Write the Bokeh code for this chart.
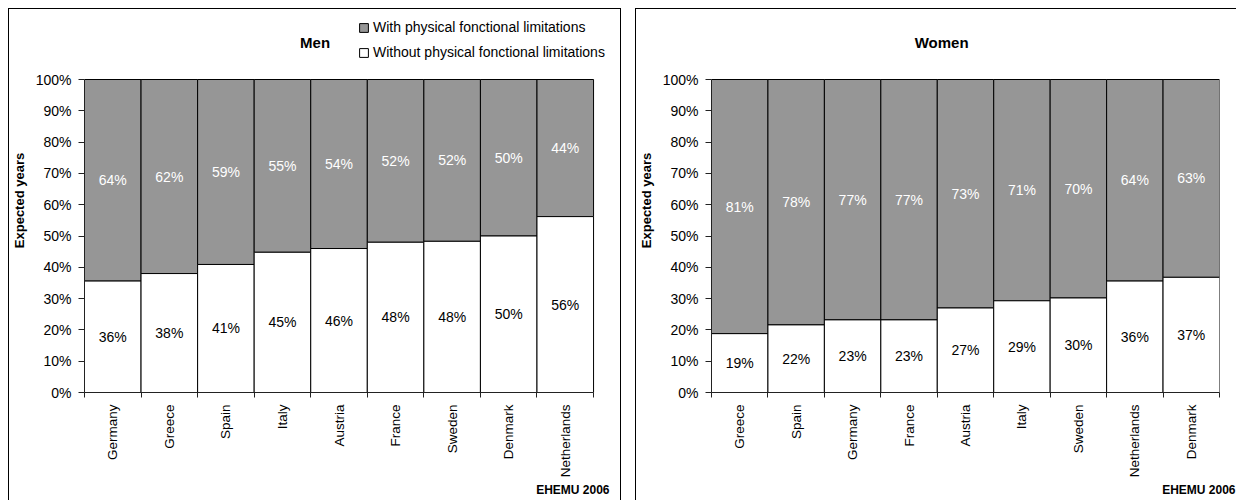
import math
from bokeh.plotting import figure
from bokeh.models import (Range1d, FixedTicker, Label, Legend, LegendItem, Title,
                          ColumnDataSource, PrintfTickFormatter)
from bokeh.layouts import row
from bokeh.core.properties import value
from bokeh.embed import file_html
from bokeh.resources import INLINE

# ---------------- data ----------------
men_countries = ["Germany", "Greece", "Spain", "Italy", "Austria",
                 "France", "Sweden", "Denmark", "Netherlands"]
men_without = [35.6, 38.0, 40.9, 44.8, 46.0, 48.0, 48.3, 50.0, 56.2]

women_countries = ["Greece", "Spain", "Germany", "France", "Austria",
                   "Italy", "Sweden", "Netherlands", "Denmark"]
women_without = [18.8, 21.6, 23.2, 23.2, 27.0, 29.3, 30.2, 35.6, 36.8]

y_ticks = [0, 10, 20, 30, 40, 50, 60, 70, 80, 90, 100]
series_names = ["With physical fonctional limitations",
                "Without physical fonctional limitations"]
panel_titles = ["Men", "Women"]
y_label = "Expected years"
source_note = "EHEMU 2006"

# ---------------- style / layout ----------------
FONT = "Liberation Sans"
GRAY = "#969696"
AXIS = "#222222"
BAR_W_PX = 510          # pixel width of the 9 bars
BAR_H_PX = 313          # pixel height of 0..100 %
HEAD_PX = 71            # header zone above 100 %
CANVAS_H = 492


def make_panel(title, countries, without, width, b_left, extra_right_px, b_right,
               legend, shadow):
    n = len(countries)
    unit_x = BAR_W_PX / n
    unit_y = BAR_H_PX / 100
    x_end = n + extra_right_px / unit_x
    y_end = 100 + HEAD_PX / unit_y
    p = figure(width=width, height=CANVAS_H,
               x_range=Range1d(0, x_end), y_range=Range1d(0, y_end),
               output_backend="svg", toolbar_location=None,
               min_border_left=b_left, min_border_right=b_right,
               min_border_top=0, min_border_bottom=CANVAS_H - HEAD_PX - BAR_H_PX,
               styles={"box-shadow": shadow})
    p.border_fill_color = None
    p.background_fill_color = None
    p.outline_line_color = None
    p.xgrid.visible = False
    p.ygrid.visible = False

    xs = [i + 0.5 for i in range(n)]
    with_lim = [100 - w for w in without]
    src = ColumnDataSource(dict(
        x=xs, without=without, total=[100] * n,
        y_low=[w / 2 for w in without],
        y_high=[w + (100 - w) / 2 for w in without],
        lab_low=[f"{round(w)}%" for w in without],
        lab_high=[f"{round(v)}%" for v in with_lim],
    ))
    r_with = p.vbar(x="x", width=1, bottom="without", top="total", source=src,
                    fill_color=GRAY, line_color="black", line_width=1)
    r_without = p.vbar(x="x", width=1, bottom=0, top="without", source=src,
                       fill_color="white", line_color="black", line_width=1)

    p.text(x="x", y="y_low", text="lab_low", source=src, text_align="center",
           text_baseline="middle", text_font=value(FONT), text_font_size="14px",
           text_color="black")
    p.text(x="x", y="y_high", text="lab_high", source=src, text_align="center",
           text_baseline="middle", text_font=value(FONT), text_font_size="14px",
           text_color="white")

    # x axis: boundary ticks via minor ticks, names at centres
    xa = p.xaxis[0]
    xa.bounds = (0, n)
    xa.ticker = FixedTicker(ticks=xs, minor_ticks=list(range(n + 1)))
    xa.major_label_overrides = {x: c for x, c in zip(xs, countries)}
    xa.major_tick_line_color = None
    xa.major_tick_out = 5
    xa.major_tick_in = 0
    xa.minor_tick_line_color = AXIS
    xa.minor_tick_out = 5
    xa.minor_tick_in = 0
    xa.axis_line_color = AXIS
    xa.major_label_orientation = math.pi / 2
    xa.major_label_standoff = 7
    xa.major_label_text_font = FONT
    xa.major_label_text_font_size = "13.5px"
    xa.major_label_text_color = "black"

    ya = p.yaxis[0]
    ya.bounds = (0, 100)
    ya.ticker = FixedTicker(ticks=y_ticks, minor_ticks=[])
    ya.formatter = PrintfTickFormatter(format="%d%%")
    ya.major_tick_out = 6
    ya.major_tick_in = 0
    ya.major_tick_line_color = AXIS
    ya.axis_line_color = AXIS
    ya.major_label_standoff = 7
    ya.major_label_text_font = FONT
    ya.major_label_text_font_size = "14px"
    ya.major_label_text_color = "black"
    ya.axis_label = y_label
    ya.axis_label_text_font = FONT
    ya.axis_label_text_font_style = "bold"
    ya.axis_label_text_font_size = "13px"
    ya.axis_label_text_color = "black"
    ya.axis_label_standoff = 6

    # panel title inside the (extended) frame header zone
    p.add_layout(Label(x=231 / unit_x, y=350 / unit_y, text=title, text_align="center",
                       text_baseline="middle", text_font=FONT, text_font_style="bold",
                       text_font_size="15px", text_color="black"))

    # source note below the axis, right edge 16px right of the bars
    p.add_layout(Title(text=source_note, align="right", offset=extra_right_px - 16,
                       text_font=FONT, text_font_style="bold", text_font_size="12px",
                       text_color="black", standoff=0), "below")

    if legend:
        lg = Legend(items=[LegendItem(label=series_names[0], renderers=[r_with]),
                           LegendItem(label=series_names[1], renderers=[r_without])],
                    location=(274, 332), orientation="vertical",
                    glyph_width=11, glyph_height=11, label_standoff=4,
                    padding=0, margin=0, spacing=9, label_height=11,
                    border_line_color=None, background_fill_alpha=0,
                    label_text_font=FONT, label_text_font_size="14px",
                    label_text_color="black")
        p.add_layout(lg, "center")
    return p


f1 = make_panel(panel_titles[0], men_countries, men_without, 613, 75, 28, 0, True,
                "inset 1px 0 0 0 #000, inset -1px 0 0 0 #000, inset 0 1px 0 0 #000")
f2 = make_panel(panel_titles[1], women_countries, women_without, 601, 74, 0, 17, False,
                "inset 1px 0 0 0 #000, inset 0 1px 0 0 #000")

layout = row(f1, f2, spacing=14, margin=(8, 0, 0, 8))
open("out.html", "w").write(file_html(layout, INLINE))
